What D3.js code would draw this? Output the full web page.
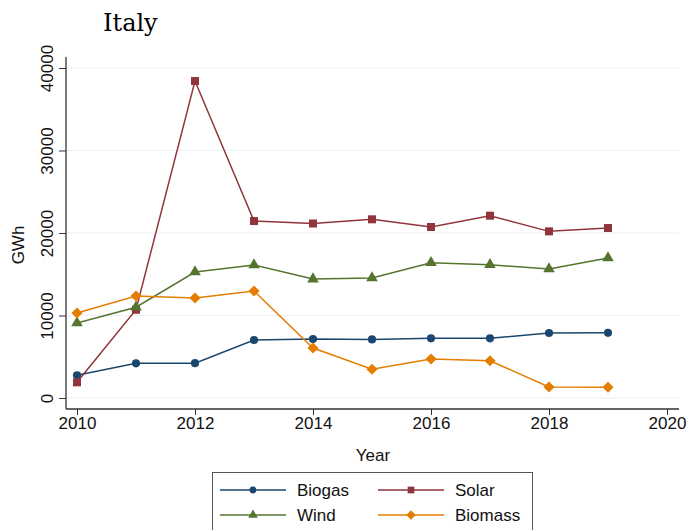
<!DOCTYPE html>
<html>
<head>
<meta charset="utf-8">
<script src="https://cdn.jsdelivr.net/npm/d3@7/dist/d3.min.js"></script>
<style>
  html, body { margin: 0; padding: 0; background: #fff; }
  svg { display: block; }
</style>
</head>
<body>
<svg id="chart" width="689" height="530"></svg>
<script>
// Electricity generation in Italy by source (GWh)
const years = [2010, 2011, 2012, 2013, 2014, 2015, 2016, 2017, 2018, 2019];
const biogas  = [2750, 4200, 4220, 7030, 7150, 7100, 7230, 7230, 7880, 7900];
const solar   = [1900, 10700, 38420, 21450, 21150, 21660, 20730, 22100, 20200, 20600];
const wind    = [9100, 11000, 15270, 16120, 14420, 14550, 16400, 16150, 15640, 16970];
const biomass = [10300, 12360, 12120, 12970, 6060, 3480, 4730, 4520, 1330, 1300];
const xTicks = [2010, 2012, 2014, 2016, 2018, 2020];
const yTicks = [0, 10000, 20000, 30000, 40000];

// Diamond drawn as a square turned 45 degrees
const squareDiamond = {
  draw(context, size) {
    const r = Math.sqrt(size / 2);
    context.moveTo(0, -r);
    context.lineTo(r, 0);
    context.lineTo(0, r);
    context.lineTo(-r, 0);
    context.closePath();
  }
};

const series = [
  { name: "Biogas",  values: biogas,  color: "#1a476f", symbol: d3.symbolCircle,   size: 52 },
  { name: "Solar",   values: solar,   color: "#90353b", symbol: d3.symbolSquare,   size: 64 },
  { name: "Wind",    values: wind,    color: "#55752f", symbol: d3.symbolTriangle, size: 58 },
  { name: "Biomass", values: biomass, color: "#e37e00", symbol: squareDiamond,     size: 62 }
];

const svg = d3.select("#chart");
const font = "'Liberation Sans', Arial, sans-serif";

const x = d3.scaleLinear().domain([2010, 2020]).range([77, 667]);
const y = d3.scaleLinear().domain([0, 40000]).range([398, 68]);
const plotLeft = 66, plotRight = 679, plotTop = 57, plotBottom = 409;

// Title
svg.append("text")
  .attr("x", 103).attr("y", 31)
  .attr("font-family", "'Palatino Linotype', 'Book Antiqua', 'DejaVu Serif', serif")
  .attr("font-size", 24)
  .attr("fill", "#000")
  .text("Italy");

// Horizontal gridlines
svg.append("g")
  .selectAll("line")
  .data(yTicks)
  .join("line")
  .attr("x1", plotLeft).attr("x2", plotRight)
  .attr("y1", d => y(d)).attr("y2", d => y(d))
  .attr("stroke", "#eaf2f3").attr("stroke-width", 1.2);

// Y axis
const yAxis = svg.append("g")
  .attr("transform", `translate(${plotLeft},0)`)
  .call(d3.axisLeft(y).tickValues(yTicks).tickSize(7).tickFormat(d3.format("d")));
yAxis.select(".domain").remove();
yAxis.append("line")
  .attr("x1", 0).attr("x2", 0).attr("y1", plotTop).attr("y2", plotBottom)
  .attr("stroke", "#333").attr("stroke-width", 1.3);
yAxis.selectAll(".tick line").attr("stroke", "#333");
yAxis.selectAll(".tick text")
  .attr("font-family", font).attr("font-size", 17).attr("fill", "#111")
  .attr("x", 0).attr("y", 0).attr("dy", 0)
  .attr("transform", "translate(-13,0) rotate(-90)")
  .attr("text-anchor", "middle");

// X axis
const xAxis = svg.append("g")
  .attr("transform", `translate(0,${plotBottom})`)
  .call(d3.axisBottom(x).tickValues(xTicks).tickSize(6).tickPadding(2).tickFormat(d3.format("d")));
xAxis.select(".domain").remove();
xAxis.append("line")
  .attr("x1", plotLeft).attr("x2", plotRight).attr("y1", 0).attr("y2", 0)
  .attr("stroke", "#333").attr("stroke-width", 1.3);
xAxis.selectAll(".tick line").attr("stroke", "#333");
xAxis.selectAll(".tick text")
  .attr("font-family", font).attr("font-size", 17).attr("fill", "#111");

// Axis titles
svg.append("text")
  .attr("x", 373).attr("y", 461)
  .attr("text-anchor", "middle")
  .attr("font-family", font).attr("font-size", 17).attr("fill", "#111")
  .text("Year");
svg.append("text")
  .attr("transform", "translate(24,245) rotate(-90)")
  .attr("text-anchor", "middle")
  .attr("font-family", font).attr("font-size", 17).attr("fill", "#111")
  .text("GWh");

// Lines and markers
const line = d3.line().x((d, i) => x(years[i])).y(d => y(d));
series.forEach(s => {
  const g = svg.append("g");
  g.append("path")
    .attr("d", line(s.values))
    .attr("fill", "none").attr("stroke", s.color).attr("stroke-width", 1.5);
  g.selectAll("path.m")
    .data(s.values)
    .join("path")
    .attr("class", "m")
    .attr("transform", (d, i) => `translate(${x(years[i])},${y(d)})`)
    .attr("d", d3.symbol().type(s.symbol).size(s.size))
    .attr("fill", s.color);
});

// Legend
const legend = svg.append("g");
legend.append("rect")
  .attr("x", 212.5).attr("y", 472.5).attr("width", 320).attr("height", 60)
  .attr("fill", "#fff").attr("stroke", "#555").attr("stroke-width", 1);
const cols = [220, 378];
const rows = [490, 515];
series.forEach((s, i) => {
  const cx = cols[i % 2], cy = rows[Math.floor(i / 2)];
  legend.append("line")
    .attr("x1", cx).attr("x2", cx + 66).attr("y1", cy).attr("y2", cy)
    .attr("stroke", s.color).attr("stroke-width", 1.5);
  legend.append("path")
    .attr("transform", `translate(${cx + 33},${cy})`)
    .attr("d", d3.symbol().type(s.symbol).size(s.size * 0.7))
    .attr("fill", s.color);
  legend.append("text")
    .attr("x", cx + 77).attr("y", cy).attr("dy", "0.35em")
    .attr("font-family", font).attr("font-size", 17).attr("fill", "#111")
    .text(s.name);
});
</script>
</body>
</html>
